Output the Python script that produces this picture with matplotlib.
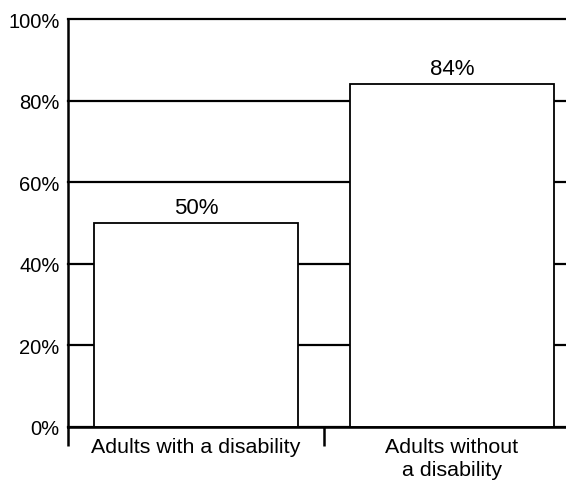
import matplotlib.pyplot as plt
import numpy as np

plt.rcParams['font.family'] = ['Liberation Sans', 'DejaVu Sans']

# 数据
categories = ['Adults with a disability', 'Adults without\na disability']
values = [50, 84]
yticks = [0, 20, 40, 60, 80, 100]

fig = plt.figure(figsize=(5.66, 4.85), dpi=100)
ax = fig.add_axes([68 / 566, 1 - 428 / 485, 512 / 566, (428 - 20) / 485])

x = np.arange(len(categories))
bars = ax.bar(x, values, width=0.795, color='white', edgecolor='black', linewidth=1.3, zorder=2)

# 柱子上方的数值
for b, v in zip(bars, values):
    ax.text(b.get_x() + b.get_width() / 2, v + 1.2, '%d%%' % v,
            ha='center', va='bottom', fontsize=16)

ax.set_xlim(-0.5, 1.5)
ax.set_ylim(0, 100)
ax.set_yticks(yticks)
ax.set_yticklabels(['%d%%' % t for t in yticks], fontsize=14.5)
ax.yaxis.grid(True, color='black', linewidth=1.6, zorder=0)
for gl in ax.get_ygridlines():
    gl.set_clip_on(False)
ax.set_axisbelow(True)
ax.tick_params(axis='y', length=0, pad=6)

# x 轴的刻度在类别之间
ax.set_xticks([-0.5, 0.5, 1.5])
ax.set_xticklabels([])
ax.set_xticks(x, minor=True)
ax.set_xticklabels(categories, minor=True, fontsize=15.4, linespacing=1.3)
ax.tick_params(axis='x', which='major', length=14, width=1.8, direction='out')
ax.tick_params(axis='x', which='minor', length=0, pad=7)

for s in ['top', 'right']:
    ax.spines[s].set_visible(False)
ax.spines['left'].set_linewidth(1.8)
ax.spines['bottom'].set_linewidth(1.8)
ax.spines['bottom'].set_zorder(3)

plt.savefig('out.png', dpi=100)
